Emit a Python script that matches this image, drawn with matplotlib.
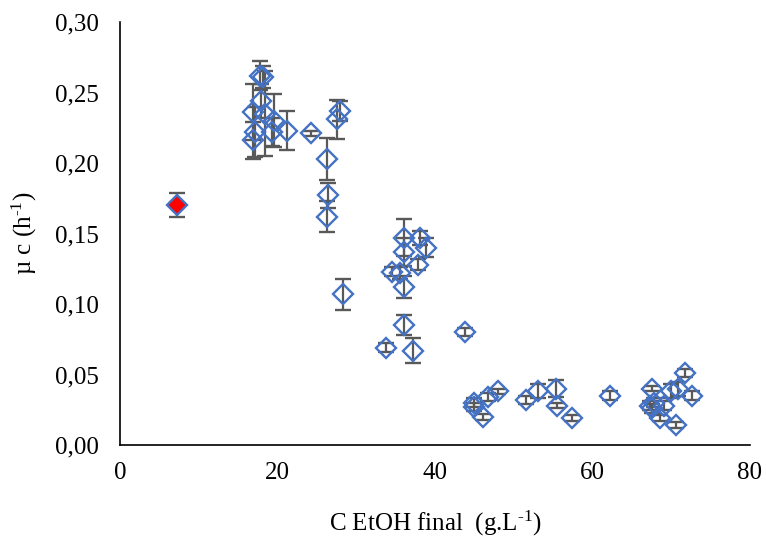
import matplotlib
matplotlib.use("Agg")
import matplotlib.pyplot as plt
import numpy as np

plt.rcParams['font.family'] = ['Liberation Serif', 'DejaVu Serif']
plt.rcParams['mathtext.fontset'] = 'custom'
plt.rcParams['mathtext.rm'] = 'Liberation Serif'
plt.rcParams['mathtext.it'] = 'Liberation Serif:italic'

# Blue series: final ethanol concentration (g/L), growth rate (1/h), error
etoh = [17.8, 18.1, 17.9, 16.9, 18.4, 19.5, 19.3, 17.1, 16.9, 21.2,
        24.2, 26.3, 26.4, 26.3, 27.9, 27.6, 28.3,
        36.0, 38.1, 38.9, 36.0, 37.9, 34.6, 35.5, 36.0, 36.1, 33.8, 37.2, 43.8,
        44.9, 44.9, 46.1, 46.7, 48.0, 51.6, 53.1, 55.4, 55.5, 57.4,
        62.2, 67.5, 67.3, 67.6, 67.8, 69.1, 68.6, 70.0, 70.9, 71.7, 72.6, 70.6]
mu = [0.262, 0.261, 0.244, 0.236, 0.235, 0.230, 0.222, 0.222, 0.216, 0.223,
      0.221, 0.203, 0.177, 0.162, 0.237, 0.231, 0.107,
      0.147, 0.147, 0.140, 0.137, 0.128, 0.123, 0.122, 0.112, 0.085, 0.069, 0.067, 0.080,
      0.030, 0.027, 0.020, 0.034, 0.038, 0.032, 0.038, 0.040, 0.028, 0.019,
      0.035, 0.040, 0.028, 0.026, 0.030, 0.028, 0.019, 0.038, 0.040, 0.051, 0.035, 0.014]
mu_err = [0.010, 0.008, 0.012, 0.020, 0.030, 0.019, 0.010, 0.018, 0.013, 0.014,
          0.002, 0.015, 0.009, 0.011, 0.007, 0.014, 0.011,
          0.013, 0.005, 0.007, 0.010, 0.004, 0.003, 0.004, 0.008, 0.007, 0.003, 0.009, 0.003,
          0.003, 0.003, 0.002, 0.003, 0.002, 0.003, 0.005, 0.006, 0.002, 0.002,
          0.003, 0.002, 0.003, 0.003, 0.003, 0.003, 0.002, 0.005, 0.005, 0.003, 0.003, 0.002]

# Red highlighted point
red_x = [7.2]
red_y = [0.170]
red_err = [0.0085]

x_ticks = [0, 20, 40, 60, 80]
y_ticks = [0.00, 0.05, 0.10, 0.15, 0.20, 0.25, 0.30]

fig = plt.figure(figsize=(7.66, 5.37), dpi=100)
ax = fig.add_axes([120/766, 1-445/537, 630/766, 423/537])

blue = '#4472C4'
grey = '#595959'

ax.errorbar(etoh, mu, yerr=mu_err, fmt='D', ms=10, mfc='none', mec=blue, mew=1.7,
            ecolor=grey, elinewidth=1.6, capsize=5.5, capthick=1.6, zorder=3)
ax.errorbar(red_x, red_y, yerr=red_err, fmt='D', ms=10, mfc='red', mec=blue, mew=1.7,
            ecolor=grey, elinewidth=1.6, capsize=5.5, capthick=1.6, zorder=3)

ax.set_xlim(0, 80)
ax.set_ylim(0, 0.30)
ax.set_xticks(x_ticks)
ax.set_yticks(y_ticks)
ax.set_xticklabels([str(v) for v in x_ticks])
ax.set_yticklabels([f"{v:.2f}".replace('.', ',') for v in y_ticks])
ax.tick_params(length=0, labelsize=18)
ax.tick_params(axis='x', pad=12)
ax.tick_params(axis='y', pad=15)

for s in ['top', 'right']:
    ax.spines[s].set_visible(False)
for s in ['left', 'bottom']:
    ax.spines[s].set_color('black')
    ax.spines[s].set_linewidth(1.2)

ax.set_xlabel(r'C EtOH final  (g.L$^{\text{-1}}$)', fontsize=18, labelpad=18)
ax.set_ylabel(r'µ c (h$^{\text{-1}}$)', fontsize=18, labelpad=12)

fig.savefig('out.png', dpi=100)
